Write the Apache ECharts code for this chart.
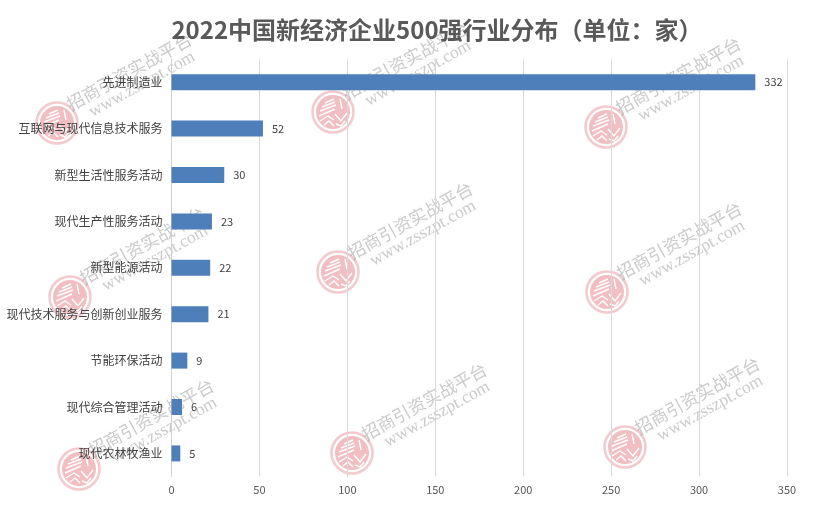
<!DOCTYPE html>
<html><head><meta charset="utf-8">
<style>html,body{margin:0;padding:0;background:#fff}#c{width:821px;height:521px}</style>
<script src="https://cdn.jsdelivr.net/npm/echarts@6/dist/echarts.min.js"></script>
</head><body><div id="c"></div>
<script>
const titleText = '2022中国新经济企业500强行业分布（单位：家）';
const categories = ['先进制造业','互联网与现代信息技术服务','新型生活性服务活动','现代生产性服务活动','新型能源活动','现代技术服务与创新创业服务','节能环保活动','现代综合管理活动','现代农林牧渔业'];
const values = [332,52,30,23,22,21,9,6,5];
const wmLogos = [[57,123],[333,112],[606,127],[70,297],[338,272],[607,292],[79,469],[352,453],[625,447]];
const wmTexts = wmLogos.map(p=>[p[0]+78,p[1]-45]);
const FONT = '"Noto Sans CJK SC","Noto Sans",sans-serif';

function wmText(p){
  return {type:'group',x:p[0],y:p[1],rotation:Math.PI*29/180,z:100,silent:true,children:[
    {type:'text',x:-2,y:-8.5,style:{text:'招商引资实战平台',font:'17.5px '+FONT,fill:'rgba(150,150,150,0.5)',align:'center',verticalAlign:'middle'}},
    {type:'text',x:3,y:9,style:{text:'www.zsszpt.com',font:'17.5px "Liberation Serif",serif',fill:'rgba(150,150,150,0.5)',align:'center',verticalAlign:'middle'}}
  ]};
}
function wmLogo(p){
  const pink='rgba(232,150,155,0.62)';
  const stripe=(pts)=>({type:'polyline',shape:{points:pts},style:{stroke:'#fff',lineWidth:1.4,fill:null}});
  return {type:'group',x:p[0],y:p[1],z:100,silent:true,children:[
    {type:'circle',shape:{cx:0,cy:0,r:20.5},style:{fill:'rgba(255,255,255,0.3)',stroke:'rgba(232,150,155,0.5)',lineWidth:2.5}},
    {type:'circle',shape:{cx:0,cy:0,r:17},style:{fill:pink}},
    stripe([[-8,-9],[1,-13]]),stripe([[-11,-5],[2,-10]]),stripe([[-13,-1],[3,-7]]),stripe([[-14,4],[2,-3]]),
    stripe([[-13,9],[-5,4],[1,8]]),stripe([[-9,13],[-4,9],[1,14]]),
    stripe([[7,-13],[9,-3]]),stripe([[2,2],[8,9],[14,1]]),stripe([[3,12],[8,14],[12,9]])
  ]};
}
const chart = echarts.init(document.getElementById('c'),null,{renderer:'canvas'});
chart.setOption({
  animation:false,
  backgroundColor:'#fff',
  title:{text:titleText,left:432,top:25,textAlign:'center',textVerticalAlign:'middle',
    textStyle:{fontFamily:FONT,fontSize:24,fontWeight:'bold',color:'#595959'}},
  grid:{left:171.5,top:59,width:615.5,height:417.6,containLabel:false},
  xAxis:{type:'value',min:0,max:350,interval:50,
    axisLine:{show:false},axisTick:{show:false},
    axisLabel:{color:'#595959',fontSize:11,fontFamily:FONT,margin:8},
    splitLine:{show:true,lineStyle:{color:'#d9d9d9',width:1}}},
  yAxis:{type:'category',inverse:true,data:categories,
    axisLine:{show:true,lineStyle:{color:'#d0d0d0',width:1}},axisTick:{show:false},
    axisLabel:{color:'#404040',fontSize:12,fontFamily:FONT,margin:9}},
  series:[{type:'bar',data:values,barWidth:16,itemStyle:{color:'#4e7fbb'},
    label:{show:true,position:'right',distance:9,color:'#404040',fontSize:11,fontFamily:FONT}}],
  graphic:{elements:[...wmLogos.map(wmLogo),...wmTexts.map(wmText)]}
});
</script></body></html>
